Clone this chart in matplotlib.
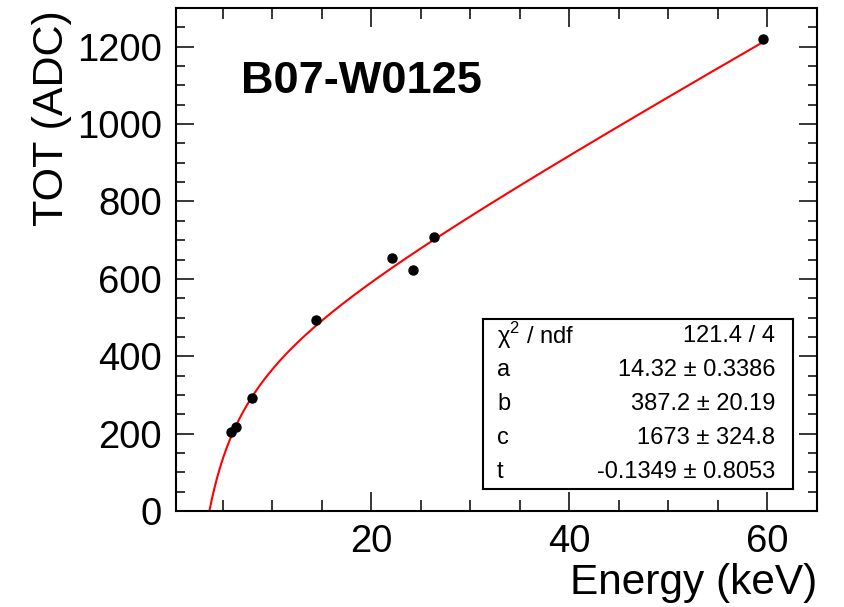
import numpy as np
import matplotlib.pyplot as plt
from matplotlib.ticker import MultipleLocator

plt.rcParams['font.family'] = ['Liberation Sans', 'DejaVu Sans']
plt.rcParams['mathtext.fontset'] = 'custom'
plt.rcParams['mathtext.rm'] = 'Liberation Sans'

# measured points (energy in keV, TOT in ADC counts)
energy = [5.9, 6.4, 8.0, 14.4, 22.1, 24.2, 26.3, 59.5]
tot = [204, 217, 292, 493, 653, 624, 707, 1221]

# fit parameters: TOT = a*E + b - c/(E - t)
par_names = ['a', 'b', 'c', 't']
par_values = [14.32, 387.2, 1673, -0.1349]
par_text = ['14.32', '387.2', '1673', '-0.1349']
err_text = ['0.3386', '20.19', '324.8', '0.8053']
chi2_text = '121.4 / 4'
label = 'B07-W0125'

W, H = 845, 607
fig = plt.figure(figsize=(W / 100, H / 100), dpi=100)
# axes frame in pixels: left 176, right 817, top 8, bottom 511
ax = fig.add_axes([176 / W, 1 - 511 / H, (817 - 176) / W, (511 - 8) / H])

a, b, c, t = par_values
xf = np.linspace(1.0, 59.5, 500)
yf = a * xf + b - c / (xf - t)
ax.plot(xf, yf, color='red', lw=1.5, zorder=2)
ax.plot(energy, tot, 'o', color='black', ms=6.5, zorder=3)

ax.set_xlim(0.3, 65)
ax.set_ylim(0, 1300)
ax.xaxis.set_major_locator(MultipleLocator(20))
ax.xaxis.set_minor_locator(MultipleLocator(5))
ax.yaxis.set_major_locator(MultipleLocator(200))
ax.yaxis.set_minor_locator(MultipleLocator(50))

ax.tick_params(axis='both', which='both', direction='in', top=True, right=True,
               width=1.1, labelsize=27.5)
ax.tick_params(axis='x', which='major', length=14, pad=9)
ax.tick_params(axis='x', which='minor', length=8)
ax.tick_params(axis='y', which='major', length=13, pad=10)
ax.tick_params(axis='y', which='minor', length=6.5)
for s in ax.spines.values():
    s.set_linewidth(1.5)

# axis titles, ROOT style (right/top aligned)
fig.text(817 / W, 1 - 594 / H, 'Energy (keV)', fontsize=30.5,
         ha='right', va='baseline')
fig.text(63 / W, 1 - 10 / H, 'TOT (ADC)', fontsize=31, rotation=90,
         rotation_mode='anchor', ha='right', va='baseline')

fig.text(241 / W, 1 - 93 / H, label, fontsize=32.5, fontweight='bold',
         ha='left', va='baseline')

# stats box
bx0, bx1, by0, by1 = 483, 793, 319, 489
box = fig.add_axes([bx0 / W, 1 - by1 / H, (bx1 - bx0) / W, (by1 - by0) / H])
box.set_xticks([])
box.set_yticks([])
box.set_xlim(0, 1)
box.set_ylim(0, 1)
for s in box.spines.values():
    s.set_linewidth(1.5)

rows_left = ['χ$^{2}$ / ndf'] + par_names
rows_right = [chi2_text] + [f'{v} ± {e}' for v, e in zip(par_text, err_text)]
row_h = 1 / len(rows_left)
for i, (l, r) in enumerate(zip(rows_left, rows_right)):
    y = 1 - (i + 0.5) * row_h
    box.text(0.045, y, l, fontsize=17, ha='left', va='center')
    box.text(0.942, y, r, fontsize=17, ha='right', va='center')

fig.savefig('out.png', dpi=100)
